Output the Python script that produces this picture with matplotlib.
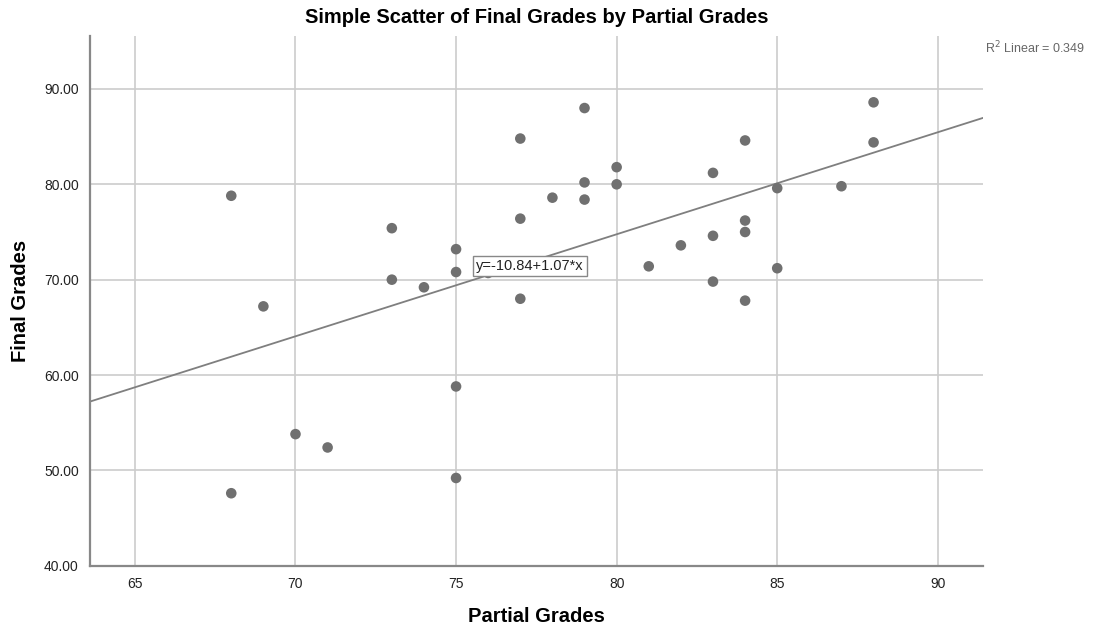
import matplotlib
matplotlib.use("Agg")
import matplotlib.pyplot as plt
import numpy as np

plt.rcParams['font.family'] = ['Liberation Sans', 'DejaVu Sans']

# data
partial = [68, 69, 68, 70, 71, 73, 73, 74, 75, 75, 75, 75, 76,
           77, 77, 77, 78, 79, 79, 79, 80, 80, 81, 82, 83, 83, 83,
           84, 84, 84, 84, 85, 85, 87, 88, 88]
final = [78.8, 67.2, 47.6, 53.8, 52.4, 75.4, 70.0, 69.2, 73.2, 70.8, 58.8, 49.2, 70.7,
         84.8, 76.4, 68.0, 78.6, 88.0, 80.2, 78.4, 81.8, 80.0, 71.4, 73.6, 81.2, 74.6, 69.8,
         84.6, 76.2, 75.0, 67.8, 79.6, 71.2, 79.8, 88.6, 84.4]
intercept = -10.84
slope = 1.07
r2 = 0.349
x_ticks = [65, 70, 75, 80, 85, 90]
y_ticks = [40, 50, 60, 70, 80, 90]

fig = plt.figure(figsize=(11.01, 6.31), dpi=100)
ax = fig.add_axes([0.0817, 0.1035, 0.8109, 0.8395])

ax.set_xlim(63.6, 91.4)
ax.set_ylim(40, 95.56)
ax.set_xticks(x_ticks)
ax.set_yticks(y_ticks)
ax.set_yticklabels([f"{v:.2f}" for v in y_ticks])
ax.tick_params(length=0, labelsize=10, colors='#222222', pad=8)
ax.grid(True, color='#cccccc', linewidth=1.2)
ax.set_axisbelow(True)

for s in ['top', 'right']:
    ax.spines[s].set_visible(False)
for s in ['left', 'bottom']:
    ax.spines[s].set_color('#888888')
    ax.spines[s].set_linewidth(1.6)

# fit line
xl = np.array(ax.get_xlim())
ax.plot(xl, intercept + slope * xl, color='#7f7f7f', linewidth=1.3, zorder=2)

ax.scatter(partial, final, s=58, color='#707070', edgecolors='none', zorder=3)

ax.text(75.62, 70.73, f"y={intercept:.2f}+{slope:.2f}*x", fontsize=10.5,
        ha='left', va='bottom', color='#222222', zorder=4,
        bbox=dict(boxstyle='square,pad=0.2', facecolor='white', edgecolor='#888888', linewidth=1))

ax.set_title("Simple Scatter of Final Grades by Partial Grades",
             fontsize=14.5, fontweight='bold', pad=9)
ax.set_xlabel("Partial Grades", fontsize=14.5, fontweight='bold', labelpad=12)
ax.set_ylabel("Final Grades", fontsize=14.5, fontweight='bold', labelpad=10)

fig.text(985 / 1101, 1 - 48 / 631, f"R$^2$ Linear = {r2}", fontsize=9,
         color='#666666', ha='left', va='center')

fig.savefig("out.png", dpi=100)
